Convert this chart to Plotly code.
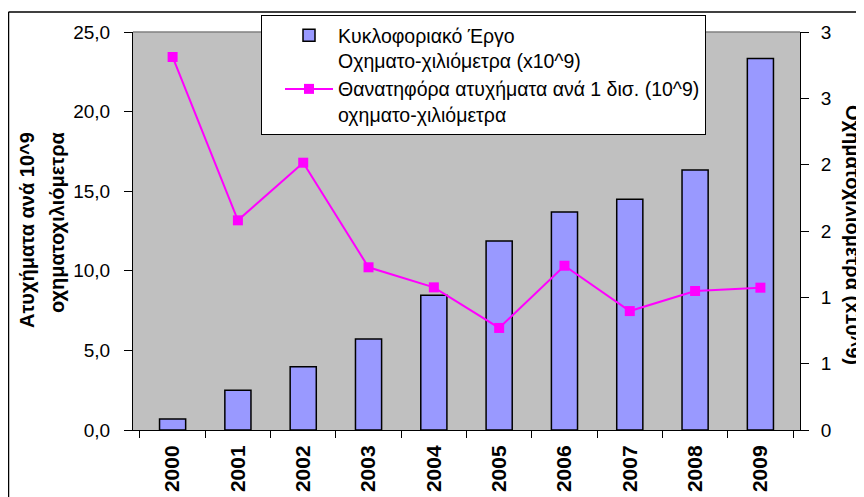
import plotly.graph_objects as go

# ---- data ----
years = ["2000", "2001", "2002", "2003", "2004", "2005", "2006", "2007", "2008", "2009"]
vehicle_km = [0.083, 0.299, 0.477, 0.686, 1.015, 1.425, 1.643, 1.739, 1.96, 2.80]      # x10^9 (right axis)
fatal_rate = [23.43, 13.17, 16.79, 10.22, 8.96, 6.41, 10.32, 7.47, 8.73, 8.94]          # per 10^9 veh-km (left axis)

left_tickvals = [0, 5, 10, 15, 20, 25]
left_ticktext = ["0,0", "5,0", "10,0", "15,0", "20,0", "25,0"]
right_tickvals = [0, 0.5, 1, 1.5, 2, 2.5, 3]
right_ticktext = ["0", "1", "1", "2", "2", "3", "3"]

bar_name = "Κυκλοφοριακό Έργο<br>Οχηματο-χιλιόμετρα (x10^9)"
line_name = "Θανατηφόρα ατυχήματα ανά 1 δισ. (10^9)<br>οχηματο-χιλιόμετρα"
left_title_1 = "Ατυχήματα ανά 10^9"
left_title_2 = "οχηματοχιλιόμετρα"
right_title = "Οχηματοχιλιόμετρα (x10^9)"

# ---- layout geometry ----
# The page body has an 8px default margin, so the figure is sized to fit the
# 864x497 window and all screen positions are shifted by that offset.
OFF = 8
W, H = 864 - OFF, 497 - OFF
L, T = 133 - OFF, 32 - OFF
PR, PB = 800 - OFF, 430 - OFF          # plot right / bottom in figure px
R, B = W - PR, H - PB
PW, PH = PR - L, PB - T


def sx(px):
    """screen x pixel -> paper x"""
    return (px - OFF - L) / PW


def sy(py):
    """screen y pixel -> paper y"""
    return (PB - (py - OFF)) / PH


FONT = "Liberation Sans, Arial, sans-serif"

fig = go.Figure()
fig.add_trace(go.Bar(
    x=years, y=vehicle_km, name=bar_name, yaxis="y",
    width=0.4,
    marker=dict(color="#9999FF", line=dict(color="black", width=1.5)),
))
fig.add_trace(go.Scatter(
    x=years, y=fatal_rate, name=line_name, yaxis="y2",
    mode="lines+markers",
    line=dict(color="#FF00FF", width=2),
    marker=dict(symbol="square", size=10, color="#FF00FF"),
))

fig.update_layout(
    width=W, height=H,
    margin=dict(l=L, r=R, t=T, b=B, pad=0, autoexpand=False),
    paper_bgcolor="white",
    plot_bgcolor="#C0C0C0",
    font=dict(family=FONT, color="black", size=18),
    showlegend=True,
    xaxis=dict(
        type="category", automargin=False,
        showline=True, linecolor="black", linewidth=1,
        ticks="outside", tickson="boundaries", ticklen=7, tickcolor="black",
        tickangle=-90,
        tickfont=dict(family=FONT, size=21, weight="bold", color="black"),
        showgrid=False, zeroline=False,
        ticklabelstandoff=6,
    ),
    yaxis=dict(
        side="right", range=[0, 3], automargin=False,
        tickvals=right_tickvals, ticktext=right_ticktext,
        showline=True, linecolor="black", linewidth=1,
        ticks="outside", ticklen=8, tickcolor="black",
        tickfont=dict(family=FONT, size=19, color="black"),
        showgrid=False, zeroline=False,
        ticklabelstandoff=8,
    ),
    yaxis2=dict(
        overlaying="y", side="left", range=[0, 25], automargin=False,
        tickvals=left_tickvals, ticktext=left_ticktext,
        showline=True, linecolor="black", linewidth=1,
        ticks="outside", ticklen=8, tickcolor="black",
        tickfont=dict(family=FONT, size=19, color="black"),
        showgrid=False, zeroline=False,
        ticklabelstandoff=10,
    ),
    legend=dict(
        x=sx(261), y=sy(15), xanchor="left", yanchor="top",
        bgcolor="white", bordercolor="black", borderwidth=1,
        font=dict(family=FONT, size=19.5, color="black"),
        valign="top", itemwidth=48, indentation=18,
        tracegroupgap=0,
    ),
    annotations=[
        dict(text="<b>" + left_title_1 + "</b>", xref="paper", yref="paper",
             x=sx(27), y=sy(230), xanchor="center", yanchor="middle",
             textangle=-90, showarrow=False, font=dict(family=FONT, size=20, color="black")),
        dict(text="<b>" + left_title_2 + "</b>", xref="paper", yref="paper",
             x=sx(57), y=sy(222), xanchor="center", yanchor="middle",
             textangle=-90, showarrow=False, font=dict(family=FONT, size=20, color="black")),
        dict(text="<b>" + right_title + "</b>", xref="paper", yref="paper",
             x=sx(853), y=sy(235), xanchor="center", yanchor="middle",
             textangle=90, showarrow=False, font=dict(family=FONT, size=20, color="black")),
    ],
    shapes=[
        # plot area top border
        dict(type="line", xref="paper", yref="paper", x0=0, x1=1, y0=1, y1=1,
             line=dict(color="#808080", width=1.5)),
        # outer chart border (top and left)
        dict(type="line", xref="paper", yref="paper", x0=sx(8.5), x1=sx(880),
             y0=sy(12), y1=sy(12), line=dict(color="black", width=1.5)),
        dict(type="line", xref="paper", yref="paper", x0=sx(8.5), x1=sx(8.5),
             y0=sy(12), y1=sy(520), line=dict(color="black", width=1.5)),
    ],
)

fig.write_html("out.html")
